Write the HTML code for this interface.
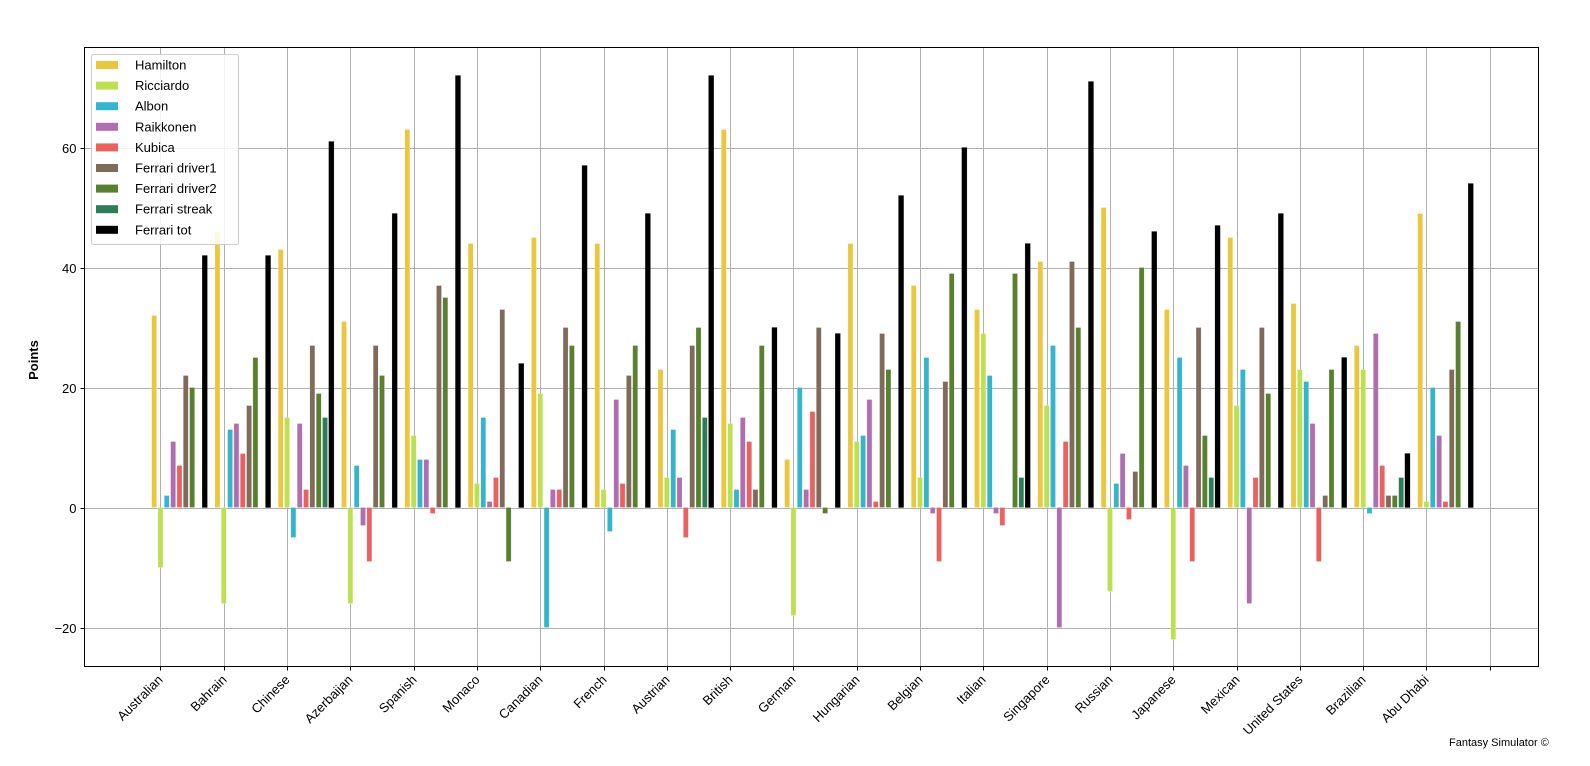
<!DOCTYPE html>
<html><head><meta charset="utf-8"><style>
body{margin:0;background:#fff;}
svg{display:block;font-family:"Liberation Sans",sans-serif;}
</style></head><body>
<svg id="chart" width="1590" height="766" viewBox="0 0 1590 766">
<rect width="1590" height="766" fill="#fff"/>
<g id="grid"></g>
<g id="bars"></g>
<rect x="84.5" y="47.5" width="1454" height="619" fill="none" stroke="#000" stroke-width="1"/>
<g id="yticks"></g>
<g id="xticks"></g>
<text x="38" y="360" transform="rotate(-90 38 360)" text-anchor="middle" font-size="13" font-weight="bold">Points</text>
<g id="legend"></g>
<text x="1449" y="746" font-size="11" fill="#000">Fantasy Simulator ©</text>
</svg>
<script>
const races=["Australian","Bahrain","Chinese","Azerbaijan","Spanish","Monaco","Canadian","French","Austrian","British","German","Hungarian","Belgian","Italian","Singapore","Russian","Japanese","Mexican","United States","Brazilian","Abu Dhabi"];
const seriesNames=["Hamilton","Ricciardo","Albon","Raikkonen","Kubica","Ferrari driver1","Ferrari driver2","Ferrari streak","Ferrari tot"];
const hamilton=[32,46,43,31,63,44,45,44,23,63,8,44,37,33,41,50,33,45,34,27,49];
const ricciardo=[-10,-16,15,-16,12,4,19,3,5,14,-18,11,5,29,17,-14,-22,17,23,23,1];
const albon=[2,13,-5,7,8,15,-20,-4,13,3,20,12,25,22,27,4,25,23,21,-1,20];
const raikkonen=[11,14,14,-3,8,1,3,18,5,15,3,18,-1,-1,-20,9,7,-16,14,29,12];
const kubica=[7,9,3,-9,-1,5,3,4,-5,11,16,1,-9,-3,11,-2,-9,5,-9,7,1];
const ferrariDriver1=[22,17,27,27,37,33,30,22,27,3,30,29,21,0,41,6,30,30,2,2,23];
const ferrariDriver2=[20,25,19,22,35,-9,27,27,30,27,-1,23,39,39,30,40,12,19,23,2,31];
const ferrariStreak=[0,0,15,0,0,0,0,0,15,0,0,0,0,5,0,0,5,0,0,5,0];
const ferrariTot=[42,42,61,49,72,24,57,49,72,30,29,52,60,44,71,46,47,49,25,9,54];
const yTicks=[-20,0,20,40,60];
const colors=["#ebc63f","#bde052","#35b4cd","#b06eb0","#ea6260","#806b5b","#58802f","#2e7d58","#000000"];
const allSeries=[hamilton,ricciardo,albon,raikkonen,kubica,ferrariDriver1,ferrariDriver2,ferrariStreak,ferrariTot];

const L=84.5,R=1538.5,T=47.5,B=666.5;
const xmin=-1.2,xmax=21.77,ymin=-26.5,ymax=76.67;
const xs=v=>L+(v-xmin)/(xmax-xmin)*(R-L);
const ys=v=>B-(v-ymin)/(ymax-ymin)*(B-T);
const NS="http://www.w3.org/2000/svg";
function mk(tag,attrs,parent){const e=document.createElementNS(NS,tag);for(const k in attrs)e.setAttribute(k,attrs[k]);parent.appendChild(e);return e;}
const grid=document.getElementById('grid'),bars=document.getElementById('bars'),yt=document.getElementById('yticks'),xt=document.getElementById('xticks'),lg=document.getElementById('legend');

for(let i=0;i<=races.length;i++){
  const x=Math.round(xs(i))+0.5;
  const g=mk('line',{x1:x,x2:x,y1:T,y2:B,stroke:'#b0b0b0','stroke-width':1},grid);
  
  
  const t=mk('line',{x1:x,x2:x,y1:B,y2:B+4,stroke:'#000'},xt);
  
  
  if(i<races.length){
    const lbl=mk('text',{x:x+3,y:B+14,'text-anchor':'end','font-size':13,transform:`rotate(-45 ${x+3} ${B+14})`},xt);
    lbl.textContent=races[i];
    
    
  }
}
yTicks.forEach(v=>{
  const y=Math.round(ys(v))+0.5;
  const g=mk('line',{x1:L,x2:R,y1:y,y2:y,stroke:'#b0b0b0','stroke-width':1},grid);
  
  
  const t=mk('line',{x1:L-4,x2:L,y1:y,y2:y,stroke:'#000'},yt);
  
  
  const lbl=mk('text',{x:L-8,y:y+4.5,'text-anchor':'end','font-size':13},yt);
  lbl.textContent=v<0?'\u2212'+Math.abs(v):String(v);
  
  
});
const bw=0.08,step=0.1;
allSeries.forEach((ser,s)=>{
  ser.forEach((v,i)=>{
    const c=i+(s-1)*step;
    const x0=xs(c-bw/2),x1=xs(c+bw/2);
    const y0=ys(Math.max(v,0)),y1=ys(Math.min(v,0));
    const r=mk('rect',{x:x0,y:y0,width:x1-x0,height:Math.max(y1-y0,0),fill:colors[s],stroke:s===8?'#000':'#fff','stroke-width':0.4,'stroke-opacity':0.6},bars);
    
    
  });
});
mk('rect',{x:91.5,y:54.5,width:147,height:190,rx:2,fill:'#fff','fill-opacity':0.85,stroke:'#ccc'},lg);
seriesNames.forEach((n,s)=>{
  const y=65+s*20.6;
  const p=mk('rect',{x:96,y:y-4,width:22,height:8,fill:colors[s]},lg);
  
  
  const t=mk('text',{x:135,y:y+4.5,'font-size':13},lg);
  t.textContent=n;
  
  
});
</script>
</body></html>
